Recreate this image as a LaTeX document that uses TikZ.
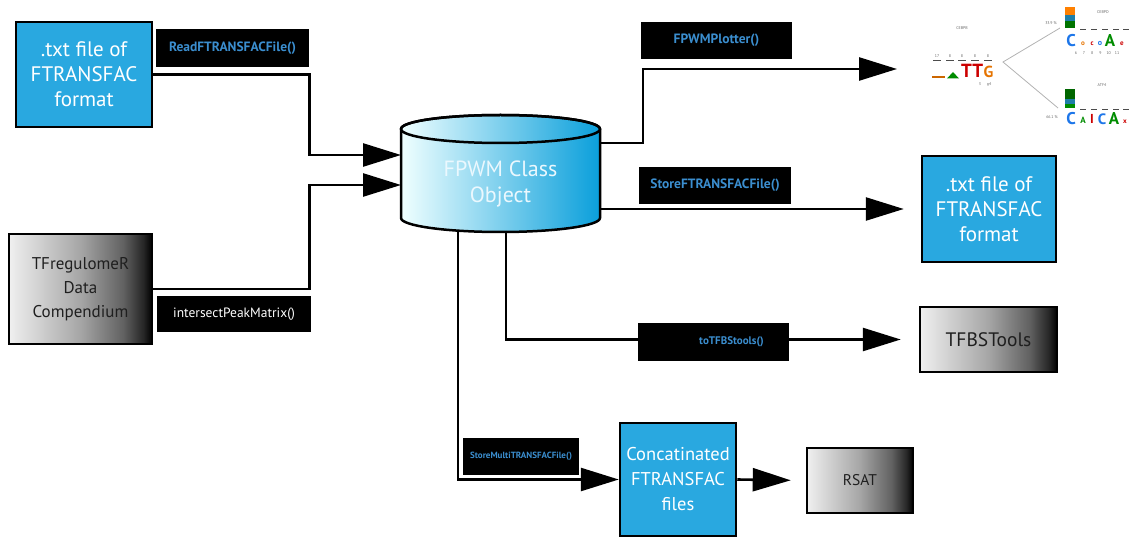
\documentclass[tikz,border=0pt]{standalone}
\usepackage{fontspec}
\setmainfont{PT Sans}
\usetikzlibrary{arrows.meta}

\definecolor{boxcyan}{HTML}{29A8E0}
\definecolor{fnblue}{HTML}{3B8ECF}
\definecolor{cylcyan}{HTML}{0A9FDB}

% white-to-black ramp for the tool boxes
\pgfdeclarehorizontalshading{greyramp}{100bp}{color(0bp)=(white!94!black); color(25bp)=(white!94!black);
  color(50bp)=(black!35); color(65bp)=(black!62); color(72bp)=(black!85); color(75bp)=(black); color(100bp)=(black)}

\tikzset{
  flow/.style={line width=2.6pt, -{Triangle[length=38pt,width=23pt]}},
  filebox/.style={draw, line width=2.5pt, fill=boxcyan, text=white, align=center,
    inner sep=0pt, font=\fontsize{21}{25}\selectfont},
  toolbox/.style={draw, line width=2.5pt, shading=greyramp, text=black!88, align=center,
    inner sep=0pt, font=\fontsize{17}{24}\selectfont},
  fnlabel/.style={fill=black, text=fnblue, inner sep=0pt, font=\bfseries\fontsize{13.5}{15}\selectfont},
  logotxt/.style={text=black!60, inner sep=0pt, font=\fontsize{4}{5}\selectfont},
  logolet/.style={inner sep=0pt, font=\bfseries\fontsize{#1}{#1}\selectfont},
}

\begin{document}
\begin{tikzpicture}[x=1pt, y=1pt]
  \useasboundingbox (0,0) rectangle (1131,-537);

  % inputs
  \node[filebox, minimum width=136pt, minimum height=105pt] (txtin) at (84,-74.5) {.txt file of\\FTRANSFAC\\format};
  \node[toolbox, minimum width=143pt, minimum height=110pt] (tfr) at (80.5,-289) {TFregulomeR\\Data\\Compendium};

  % FPWM object (cylinder)
  \node[minimum width=199pt, minimum height=117pt, inner sep=0pt] (obj) at (500.5,-173.5) {};
  \draw[line width=2.5pt, left color=cyan!6, right color=cylcyan]
    (401,-129) -- (401,-218) arc[start angle=180, end angle=360, x radius=99.5pt, y radius=14pt]
    -- (600,-129) arc[start angle=0, end angle=180, x radius=99.5pt, y radius=14pt] -- cycle;
  \draw[line width=2.5pt] (500.5,-129) ellipse[x radius=99.5pt, y radius=14pt];
  \node[text=white!92!cyan, align=center, font=\fontsize{22}{26}\selectfont] (objtxt) at (500.5,-184) {FPWM Class\\Object};
  \coordinate (objin1) at (401,-155);
  \coordinate (objin2) at (401,-185);
  \coordinate (objout1) at (600,-143);
  \coordinate (objout2) at (600,-209);
  \coordinate (objbot1) at (506,-231);
  \coordinate (objbot2) at (458,-230);
  \coordinate (plotin) at (897,-69);

  % outputs
  \node[filebox, minimum width=134pt, minimum height=106pt] (txtout) at (989,-209) {.txt file of\\FTRANSFAC\\format};
  \node[toolbox, minimum width=137pt, minimum height=65pt, font=\fontsize{19.5}{24}\selectfont] (tfbs) at (988.5,-339.5) {TFBSTools};
  \node[filebox, minimum width=116pt, minimum height=113pt, font=\fontsize{18.5}{25}\selectfont] (concat) at (678,-479.5) {Concatinated\\FTRANSFAC\\files};
  \node[toolbox, minimum width=106pt, minimum height=65pt, font=\fontsize{15.5}{20}\selectfont] (rsat) at (860,-480.5) {RSAT};

  % connectors
  \draw[flow] (txtin.east) -- ++(156,0) |- (objin1);
  \draw[flow] (tfr.east) -- ++(156,0) |- (objin2);
  \draw[flow] (objout1) -- ++(43,0) |- (plotin);
  \draw[flow, shorten >=17pt] (objout2) -- (txtout.west);
  \draw[flow, shorten >=18pt] (objbot1) |- (tfbs.west);
  \draw[flow] (objbot2) |- (concat.west);
  \draw[flow, shorten >=15pt] (concat.east) -- (rsat.west);

  % function labels
  \node[fnlabel, minimum width=153pt, minimum height=38pt] (readlbl) at (232.5,-48) {ReadFTRANSFACFile()};
  \node[fnlabel, minimum width=154pt, minimum height=36pt, text=white, font=\fontsize{13.5}{15}\selectfont] (isectlbl) at (234,-314) {intersectPeakMatrix()};
  \node[fnlabel, minimum width=151pt, minimum height=37pt] (plotlbl) at (716.5,-40.5) {FPWMPlotter()};
  \node[fnlabel, minimum width=152pt, minimum height=37pt] (storelbl) at (715,-185.5) {StoreFTRANSFACFile()};
  \node[fnlabel, minimum width=151pt, minimum height=38pt, text width=151pt, align=center, font=\bfseries\fontsize{11}{13}\selectfont] (tolbl) at (713.5,-342) {\hspace*{36pt}toTFBStools()};
  \node[fnlabel, minimum width=116pt, minimum height=37pt, font=\bfseries\fontsize{9}{11}\selectfont] (multilbl) at (521,-456.5) {StoreMultiTRANSFACFile()};

  % motif logos: CEBPB splitting into CEBPD / ATF4
  \node[logotxt] (tcebpb) at (962,-28) {CEBPB};
  \foreach \x/\n in {937/17,950/8,962/8,975/8,988/8} {
    \draw[black!70, line width=.6pt] (\x-4,-60) -- (\x+4,-60);
    \node[logotxt] (nb\x) at (\x,-56) {\n};
  }
  \fill[orange!80!black] (932,-76) rectangle (945,-78.5);
  \fill[green!55!black] (947,-78.5) -- (953,-72) -- (959,-78.5) -- cycle;
  \node[logolet=19, text=red!80!black, anchor=base west] (cebpbT) at (961,-78) {TT};
  \node[logolet=16, text=orange!90!black, anchor=base west] (cebpbG) at (cebpbT.base east) {G};
  \node[logotxt] (cebpbpos) at (985,-85) {3\hspace{6pt}g4};
  \coordinate (split) at (1003,-62);

  \node[logotxt] (tcebpd) at (1103,-12) {CEBPD};
  \node[logotxt, anchor=east] (pctd) at (1057,-23) {33.9 \%};
  \fill[orange] (1065,-7) rectangle (1075,-15);
  \fill[boxcyan!75!black] (1065,-15) rectangle (1075,-21);
  \fill[green!45!black] (1065,-21) rectangle (1075,-28);
  \coordinate (cebpdin) at (1060,-28);
  \foreach \x in {1083,1094,1105,1116,1126}
    \draw[black!70, line width=.6pt] (\x-3,-29) -- (\x+3,-29);
  \node[logolet=17, text=boxcyan!70!blue, anchor=base] (cebpdC) at (1071,-47) {C};
  \node[logolet=7, text=orange!90!black, anchor=base] (cebpdx1) at (1083,-46) {o};
  \node[logolet=7, text=red!80!black, anchor=base] (cebpdx2) at (1092,-46) {c};
  \node[logolet=8, text=boxcyan!70!blue, anchor=base] (cebpdx3) at (1100,-46) {o};
  \node[logolet=17, text=green!55!black, anchor=base] (cebpdA) at (1110,-47) {A};
  \node[logolet=7, text=red!80!black, anchor=base] (cebpdx4) at (1122,-46) {e};
  \node[logotxt] (cebpdpos) at (1097,-53) {6\hspace{6pt}7\hspace{6pt}8\hspace{6pt}9\hspace{5pt}10\hspace{4pt}11};

  \node[logotxt] (tatf) at (1102,-85) {ATF4};
  \node[logotxt, anchor=east] (pcta) at (1058,-117) {66.1 \%};
  \fill[green!40!black] (1065,-89) rectangle (1075,-99);
  \fill[boxcyan!75!black] (1065,-99) rectangle (1075,-104);
  \fill[green!55!black] (1065,-104) rectangle (1075,-108);
  \coordinate (atfin) at (1058,-108);
  \foreach \x in {1083,1094,1105,1116,1126}
    \draw[black!70, line width=.6pt] (\x-3,-109) -- (\x+3,-109);
  \node[logolet=17, text=boxcyan!70!blue, anchor=base] (atfC1) at (1071,-125) {C};
  \node[logolet=9, text=green!55!black, anchor=base] (atfA1) at (1083,-124) {A};
  \node[logolet=13, text=red!80!black, anchor=base] (atfT) at (1092,-124) {I};
  \node[logolet=15, text=boxcyan!70!blue, anchor=base] (atfC2) at (1102,-125) {C};
  \node[logolet=17, text=green!55!black, anchor=base] (atfA2) at (1114,-125) {A};
  \node[logolet=7, text=red!80!black, anchor=base] (atfx) at (1125,-124) {x};

  \draw[black!30, line width=.8pt] (cebpdin) -- (split) -- (atfin);
\end{tikzpicture}
\end{document}
